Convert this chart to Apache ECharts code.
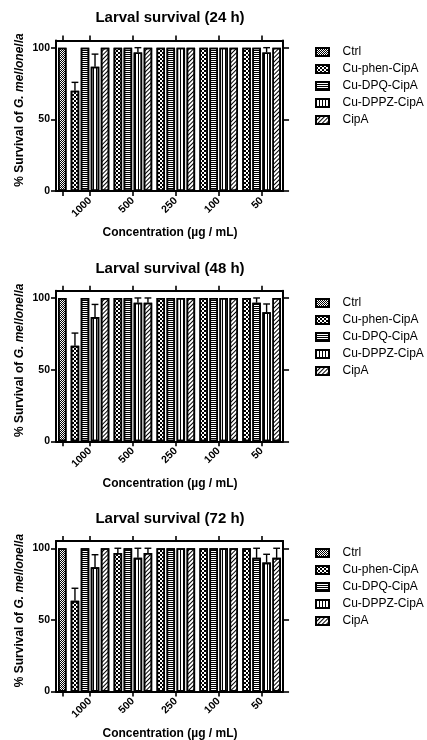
<!DOCTYPE html>
<html><head><meta charset="utf-8">
<script src="https://cdn.jsdelivr.net/npm/echarts@6/dist/echarts.min.js"></script>
<style>html,body{margin:0;padding:0;background:#fff}#c{width:427px;height:740px}</style>
</head><body><div id="c"></div>
<script>
// ---------------- data ----------------
const TITLES = ['Larval survival (24 h)', 'Larval survival (48 h)', 'Larval survival (72 h)'];
const CONCENTRATIONS = ['1000', '500', '250', '100', '50'];
const CTRL_CATEGORY = [''];
const SERIES_NAMES = ['Ctrl', 'Cu-phen-CipA', 'Cu-DPQ-CipA', 'Cu-DPPZ-CipA', 'CipA'];
const Y_TICKS = [0, 50, 100];
const X_NAME = 'Concentration (µg / mL)';

// 24 h
const CTRL_24 = [100];
const PHEN_24 = [70, 100, 100, 100, 100];
const PHEN_24_ERR = [5.8, 0, 0, 0, 0];
const DPQ_24 = [100, 100, 100, 100, 100];
const DPQ_24_ERR = [0, 0, 0, 0, 0];
const DPPZ_24 = [86.7, 96.7, 100, 100, 96.7];
const DPPZ_24_ERR = [8.8, 3.3, 0, 0, 3.3];
const CIPA_24 = [100, 100, 100, 100, 100];
const CIPA_24_ERR = [0, 0, 0, 0, 0];

// 48 h
const CTRL_48 = [100];
const PHEN_48 = [66.7, 100, 100, 100, 100];
const PHEN_48_ERR = [8.8, 0, 0, 0, 0];
const DPQ_48 = [100, 100, 100, 100, 96.7];
const DPQ_48_ERR = [0, 0, 0, 0, 3.3];
const DPPZ_48 = [86.7, 96.7, 100, 100, 90];
const DPPZ_48_ERR = [8.8, 3.3, 0, 0, 5.8];
const CIPA_48 = [100, 96.7, 100, 100, 100];
const CIPA_48_ERR = [0, 3.3, 0, 0, 0];

// 72 h
const CTRL_72 = [100];
const PHEN_72 = [63.3, 96.7, 100, 100, 100];
const PHEN_72_ERR = [8.8, 3.3, 0, 0, 0];
const DPQ_72 = [100, 100, 100, 100, 93.3];
const DPQ_72_ERR = [0, 0, 0, 0, 6.7];
const DPPZ_72 = [86.7, 93.3, 100, 100, 90];
const DPPZ_72_ERR = [8.8, 6.7, 0, 0, 5.8];
const CIPA_72 = [100, 96.7, 100, 100, 93.3];
const CIPA_72_ERR = [0, 3.3, 0, 0, 6.7];

const PANELS = [
  { ctrl: CTRL_24, vals: [PHEN_24, DPQ_24, DPPZ_24, CIPA_24], errs: [PHEN_24_ERR, DPQ_24_ERR, DPPZ_24_ERR, CIPA_24_ERR] },
  { ctrl: CTRL_48, vals: [PHEN_48, DPQ_48, DPPZ_48, CIPA_48], errs: [PHEN_48_ERR, DPQ_48_ERR, DPPZ_48_ERR, CIPA_48_ERR] },
  { ctrl: CTRL_72, vals: [PHEN_72, DPQ_72, DPPZ_72, CIPA_72], errs: [PHEN_72_ERR, DPQ_72_ERR, DPPZ_72_ERR, CIPA_72_ERR] }
];

// ---------------- styles / layout ----------------
const FONT = 'Liberation Sans, Arial, Helvetica, sans-serif';
const STEP = 250.3;
const PLOT_LEFT = 56, CTRL_W = 12.55, CONC_W = 214.5, PLOT_TOP = 40.5, PLOT_H = 150.5;
const BAR_W = 8.5, BAR_GAP = '18%', BORDER = 1.6, CAP = 3.4;

const DECALS = [
  { symbol: 'rect', symbolSize: 1, color: '#000', dashArrayX: [[1, 1], [0, 1, 1, 0]], dashArrayY: [1, 0] },
  { symbol: 'rect', symbolSize: 1, color: '#000', dashArrayX: [[2, 2], [0, 2, 2, 0]], dashArrayY: [2, 0] },
  { symbol: 'rect', symbolSize: 1, color: '#000', dashArrayX: [1, 0], dashArrayY: [1, 1] },
  { symbol: 'rect', symbolSize: 1, color: '#000', dashArrayX: [1, 2], dashArrayY: [1, 0] },
  { symbol: 'rect', symbolSize: 1, color: '#000', dashArrayX: [1, 0], dashArrayY: [1, 2], rotation: -Math.PI / 4 }
];
function itemStyle(i) {
  return { color: '#fff', borderColor: '#000', borderWidth: BORDER, decal: DECALS[i] };
}

const grids = [], xAxes = [], yAxes = [], series = [], titles = [], legends = [];

PANELS.forEach((p, c) => {
  const off = c * STEP;
  const top = PLOT_TOP + off;
  grids.push({ left: PLOT_LEFT, top: top, width: CTRL_W, height: PLOT_H, outerBoundsMode: 'none' });
  grids.push({ left: PLOT_LEFT + CTRL_W, top: top, width: CONC_W, height: PLOT_H, outerBoundsMode: 'none' });
  const g0 = 2 * c, g1 = 2 * c + 1;

  const catAxis = (grid, data, pos, labels) => ({
    type: 'category', gridIndex: grid, data: data, position: pos, boundaryGap: true,
    axisLine: { show: true, onZero: false, lineStyle: { color: '#000', width: 2 } },
    axisTick: { show: true, alignWithLabel: true, length: 5, lineStyle: { color: '#000', width: 1.6 } },
    axisLabel: labels ? { show: true, rotate: 45, margin: 8, interval: 0, color: '#000', fontFamily: FONT, fontSize: 10.5, fontWeight: 'bold' } : { show: false },
    splitLine: { show: false }
  });
  xAxes.push(catAxis(g0, CTRL_CATEGORY, 'bottom', false));
  xAxes.push(catAxis(g0, CTRL_CATEGORY, 'top', false));
  const xb = catAxis(g1, CONCENTRATIONS, 'bottom', true);
  xb.name = X_NAME;
  xb.nameLocation = 'middle';
  xb.nameGap = 36;
  xb.nameTextStyle = { color: '#000', fontFamily: FONT, fontSize: 12, fontWeight: 'bold', padding: [0, 11.6, 0, 0] };
  xAxes.push(xb);
  xAxes.push(catAxis(g1, CONCENTRATIONS, 'top', false));

  const valAxis = (grid, pos, labels) => ({
    type: 'value', gridIndex: grid, position: pos, min: 0, max: 105,
    axisLine: { show: true, onZero: false, lineStyle: { color: '#000', width: 2 } },
    axisTick: { show: true, length: pos === 'left' ? 5 : 6, customValues: Y_TICKS, lineStyle: { color: '#000', width: 1.6 } },
    axisLabel: labels ? { show: true, customValues: Y_TICKS, margin: 6, color: '#000', fontFamily: FONT, fontSize: 10.5, fontWeight: 'bold' } : { show: false },
    splitLine: { show: false }
  });
  const yl = valAxis(g0, 'left', true);
  yl.name = '% Survival of {i|G. mellonella}';
  yl.nameLocation = 'middle';
  yl.nameGap = 30;
  yl.nameTextStyle = {
    color: '#000', fontFamily: FONT, fontSize: 12, fontWeight: 'bold', padding: [0, 0, 0, 11.5],
    rich: { i: { color: '#000', fontFamily: FONT, fontSize: 12, fontWeight: 'bold', fontStyle: 'italic' } }
  };
  yAxes.push(yl);
  yAxes.push(valAxis(g1, 'right', false));

  titles.push({
    text: TITLES[c], left: 170, top: 18.3 + off, textAlign: 'center', textVerticalAlign: 'middle', padding: 0,
    textStyle: { color: '#000', fontFamily: FONT, fontSize: 15, fontWeight: 'bold' }
  });
  legends.push({
    data: SERIES_NAMES, orient: 'vertical', left: 315, top: Math.round(46.2 + off), padding: 0,
    icon: 'rect', itemWidth: 13, itemHeight: 8, itemGap: 5, selectedMode: false,
    textStyle: { color: '#000', fontFamily: FONT, fontSize: 12, lineHeight: 12, padding: [0, 0, 0, 8.5] }
  });

  series.push({
    type: 'bar', name: SERIES_NAMES[0], xAxisIndex: 4 * c, yAxisIndex: 2 * c, data: p.ctrl,
    barWidth: BAR_W, itemStyle: itemStyle(0)
  });
  const errRows = [];
  p.vals.forEach((vals, s) => {
    series.push({
      type: 'bar', name: SERIES_NAMES[s + 1], xAxisIndex: 4 * c + 2, yAxisIndex: 2 * c + 1, data: vals,
      barWidth: BAR_W, barGap: BAR_GAP, itemStyle: itemStyle(s + 1)
    });
    vals.forEach((v, i) => { if (p.errs[s][i] > 0) errRows.push([i, s, v, p.errs[s][i]]); });
  });
  series.push({
    type: 'custom', name: 'err', xAxisIndex: 4 * c + 2, yAxisIndex: 2 * c + 1, z: 5,
    encode: { x: 0, y: 2 }, data: errRows,
    renderItem: (params, api) => {
      const layout = api.barLayout({ count: 4, barWidth: BAR_W, barGap: BAR_GAP });
      const cat = api.value(0), s = api.value(1), v = api.value(2), e = api.value(3);
      const base = api.coord([cat, v]);
      const topPt = api.coord([cat, v + e]);
      const x = base[0] + layout[s].offsetCenter;
      const st = { stroke: '#000', lineWidth: 1.4 };
      return {
        type: 'group', children: [
          { type: 'line', shape: { x1: x, y1: base[1], x2: x, y2: topPt[1] }, style: st },
          { type: 'line', shape: { x1: x - CAP, y1: topPt[1], x2: x + CAP, y2: topPt[1] }, style: st }
        ]
      };
    }
  });
});

const chart = echarts.init(document.getElementById('c'), null, { renderer: 'canvas' });
chart.setOption({
  animation: false,
  backgroundColor: '#fff',
  title: titles, legend: legends, grid: grids, xAxis: xAxes, yAxis: yAxes, series: series
});
</script></body></html>
